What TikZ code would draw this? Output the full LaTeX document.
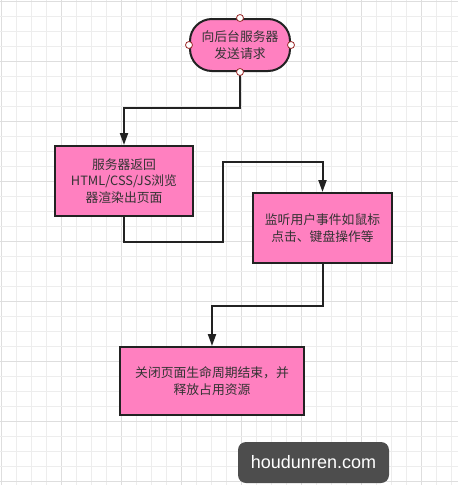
\documentclass[tikz,border=0pt]{standalone}
\usepackage{fontspec}
\setmainfont{Noto Sans CJK SC}
\newfontfamily\sitefont{Liberation Sans}
\usetikzlibrary{arrows.meta}
\definecolor{boxpink}{HTML}{FF80C0}
\definecolor{edgegray}{HTML}{222222}
\definecolor{textgray}{HTML}{333333}
\definecolor{portred}{HTML}{9C2B2B}
\definecolor{gridminor}{HTML}{EDEDED}
\definecolor{gridmajor}{HTML}{DEDEDE}
\definecolor{sitegray}{HTML}{4D4D4D}
\begin{document}
\begin{tikzpicture}[x=1pt,y=-1pt]
\tikzstyle{every node}+=[inner sep=0pt]
\tikzstyle{proc}=[draw=edgegray, line width=2pt, fill=boxpink, align=center, text=textgray, font=\fontsize{12.8}{16.5}\selectfont]
\tikzstyle{term}=[proc, rounded corners=22pt, minimum width=100pt, minimum height=52pt]
\tikzstyle{port}=[draw=portred, fill=white, line width=0.8pt]
\tikzstyle{link}=[draw=edgegray, line width=2pt, -{Triangle[length=12pt,width=8pt]}]
\useasboundingbox (0,0) rectangle (458,485);
\fill [white] (0,0) rectangle (458,485);
% grid
\foreach \k in {0,...,30} {
  \pgfmathtruncatemacro{\m}{mod(\k,4)}
  \ifnum\m=0 \def\gc{gridmajor}\else\def\gc{gridminor}\fi
  \draw [\gc, line width=1pt] (1+15*\k,0) -- (1+15*\k,485);
}
\foreach \k in {0,...,32} {
  \pgfmathtruncatemacro{\m}{mod(\k,4)}
  \ifnum\m=0 \def\gc{gridmajor}\else\def\gc{gridminor}\fi
  \draw [\gc, line width=1pt] (0,1+15*\k) -- (458,1+15*\k);
}
% steps
\node [term] (request) at (240,45) {向后台服务器\\发送请求};
\node [proc, minimum width=138pt, minimum height=70pt] (render) at (124,181) {服务器返回\\HTML/CSS/JS浏览\\器渲染出页面};
\node [proc, minimum width=139pt, minimum height=70pt] (listen) at (322.5,228) {监听用户事件如鼠标\\点击、键盘操作等};
\node [proc, minimum width=184pt, minimum height=68pt] (release) at (212,381) {关闭页面生命周期结束，并\\释放占用资源};
% connectors
\coordinate (bendlow) at (223,242);
\coordinate (bendhigh) at (223,162);
\draw [link] (request.south) -- ++(0,36) -| (render.north);
\draw [link] (render.south) |- (bendlow) -- (bendhigh) -| (listen.north);
\draw [link] (listen.south) -- ++(0,42) -| (release.north);
\foreach \a in {north,south,east,west}
  \draw [port] (request.\a) circle (3.5);
% watermark
\node [fill=sitegray, rounded corners=8pt, minimum width=151pt, minimum height=41pt, text=white, font=\sitefont\fontsize{18}{20}\selectfont] (site) at (313.5,462.5) {houdunren.com};
\end{tikzpicture}
\end{document}
